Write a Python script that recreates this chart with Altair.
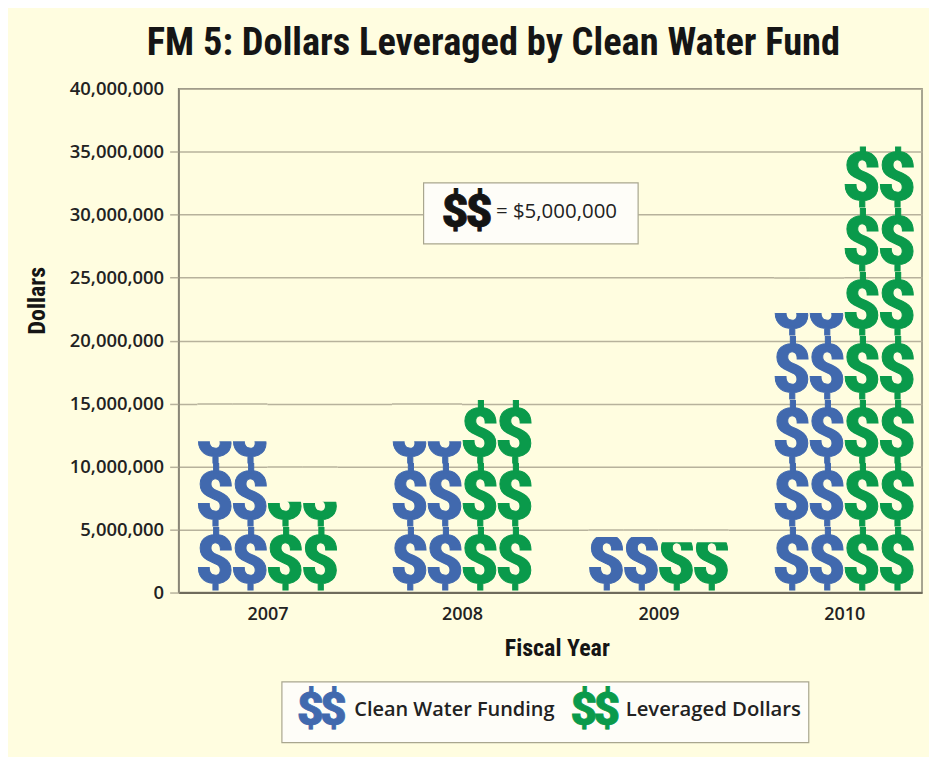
import math
import altair as alt
import pandas as pd

YEARS = [2007, 2008, 2009, 2010]
CLEAN_WATER = [12000000, 12000000, 4400000, 22200000]
LEVERAGED = [7200000, 15400000, 4000000, 35400000]
Y_TICKS = [0, 5000000, 10000000, 15000000, 20000000, 25000000, 30000000, 35000000, 40000000]
TITLE = "FM 5: Dollars Leveraged by Clean Water Fund"
SERIES = ["Clean Water Funding", "Leveraged Dollars"]
KEY_LABEL = "= $5,000,000"

BLUE = "#4169ae"
GREEN = "#0a9a4b"
BG = "#fffde0"
GRID = "#b7b29c"
NARROW = "'Roboto Condensed', 'DejaVu Sans Condensed', Roboto"
LABEL = "Open Sans"
GLYPH = "Roboto"
PITCH = 5080000  # drawn height of one glyph in dollars
SLOT = 0.18      # width of one glyph in year units
CENTERS = [89, 284, 481, 667]
SLOPE = 195
PLOT_W = 745

glyphs, masks, grid_over = [], [], []
for s, (name, vals) in enumerate(zip(SERIES, [CLEAN_WATER, LEVERAGED])):
    for year, v in zip(YEARS, vals):
        n = math.ceil(v / PITCH - 0.05)
        for side in (0, 1):
            xc = year + (s * 2 + side - 1.5) * SLOT
            x0, x1 = xc - SLOT / 2, xc + SLOT / 2
            for i in range(n):
                glyphs.append({"x": xc, "series": name, "y": (i + 0.5) * PITCH})
            top = max(n * PITCH, v) + 500000
            masks.append({"x0": x0, "x1": x1, "lo": v, "hi": top})
            for t in Y_TICKS:
                if v < t < top:
                    grid_over.append({"x0": x0, "x1": x1, "t": t})

dom = [YEARS[0] - CENTERS[0] / SLOPE]
rng = [0]
for year, c in zip(YEARS, CENTERS):
    dom += [year - 0.38, year + 0.38]
    rng += [c - 0.38 * SLOPE, c + 0.38 * SLOPE]
dom.append(YEARS[-1] + (PLOT_W - CENTERS[-1]) / SLOPE)
rng.append(PLOT_W)
x_scale = alt.Scale(domain=dom, range=rng)
y_scale = alt.Scale(domain=[0, 40000000], nice=False)
color_scale = alt.Scale(domain=SERIES, range=[BLUE, GREEN])

x_axis = alt.Axis(
    values=YEARS, format="d", grid=False, ticks=False, domainColor="#6f6b5c", domainWidth=2,
    labelFont=LABEL, labelFontWeight=600, labelFontSize=18, labelColor="#222222", labelPadding=13,
    labelAngle=0, title="Fiscal Year", titleFont=NARROW, titleFontWeight="bold", titleFontSize=24,
    titleColor="#151515", titleX=379, titleY=44,
)
y_axis = alt.Axis(
    values=Y_TICKS, format=",d", grid=True, gridColor=GRID, gridWidth=1.5,
    domainColor="#8a8778", domainWidth=1.5, tickSize=9, tickWidth=1.5,
    tickColor=alt.expr("datum.value == 40000000 ? 'transparent' : '" + GRID + "'"),
    labelFont=LABEL, labelFontWeight=600, labelFontSize=18.5, labelColor="#222222", labelPadding=6,
    title="Dollars", titleFont=NARROW, titleFontWeight="bold", titleFontSize=24,
    titleColor="#151515", titleX=-129, titleY=212,
)

glyph_layer = alt.Chart(pd.DataFrame(glyphs)).mark_text(
    text="$", font=GLYPH, fontWeight=900, fontSize=66, strokeWidth=1, baseline="middle", dy=3
).encode(
    x=alt.X("x:Q", scale=x_scale, axis=x_axis),
    y=alt.Y("y:Q", scale=y_scale, axis=y_axis),
    color=alt.Color("series:N", scale=color_scale, legend=None),
    stroke=alt.Stroke("series:N", scale=color_scale, legend=None),
)

mask_layer = alt.Chart(pd.DataFrame(masks)).mark_rect(fill=BG, stroke=None).encode(
    x=alt.X("x0:Q", scale=x_scale),
    x2="x1:Q",
    y=alt.Y("lo:Q", scale=y_scale),
    y2="hi:Q",
)

grid_layer = alt.Chart(pd.DataFrame(grid_over)).mark_rule(color=GRID, strokeWidth=1.5, yOffset=0.5).encode(
    x=alt.X("x0:Q", scale=x_scale),
    x2="x1:Q",
    y=alt.Y("t:Q", scale=y_scale),
)

one = pd.DataFrame({"a": [0]})


def box(x0, x1, y0, y1):
    return alt.Chart(one).mark_rect(fill="#fefdf8", stroke="#a9a68f", strokeWidth=1.2).encode(
        x=alt.value(x0), x2=alt.value(x1), y=alt.value(y0), y2=alt.value(y1)
    )


def dollar(xc, yc, color):
    return alt.Chart(one).mark_text(
        text="$", font=GLYPH, fontWeight=900, fontSize=46, fill=color,
        stroke=color, strokeWidth=0.8, baseline="middle", align="center",
    ).encode(x=alt.value(xc), y=alt.value(yc))


def label(text, x, y, size, weight):
    return alt.Chart(one).mark_text(
        text=text, font=LABEL, fontSize=size, fontWeight=weight, fill="#222222",
        baseline="middle", align="left",
    ).encode(x=alt.value(x), y=alt.value(y))


chart = alt.layer(
    glyph_layer,
    mask_layer,
    grid_layer,
    box(245.5, 460.5, 94.5, 155.5),
    dollar(277, 125, "#141414"),
    dollar(301, 125, "#141414"),
    label(KEY_LABEL, 318, 124, 20.5, 400),
    box(103.5, 631.5, 594.5, 655.5),
    dollar(132, 624, BLUE),
    dollar(155, 624, BLUE),
    label(SERIES[0], 176, 623, 20, 600),
    dollar(406, 624, GREEN),
    dollar(429, 624, GREEN),
    label(SERIES[1], 448, 623, 20.3, 600),
).properties(
    width=PLOT_W,
    height=505,
    background=BG,
    autosize="none",
    padding={"left": 171, "top": 80, "right": 7, "bottom": 164},
    title=alt.TitleParams(
        TITLE, font=NARROW, fontWeight="bold", fontSize=38.5, color="#151515",
        anchor="middle", dx=-57, offset=16,
    ),
).configure_view(stroke="#8a8778", strokeWidth=1.5, fill=BG)

chart.save("out.html", embed_options={"renderer": "svg", "actions": False})
